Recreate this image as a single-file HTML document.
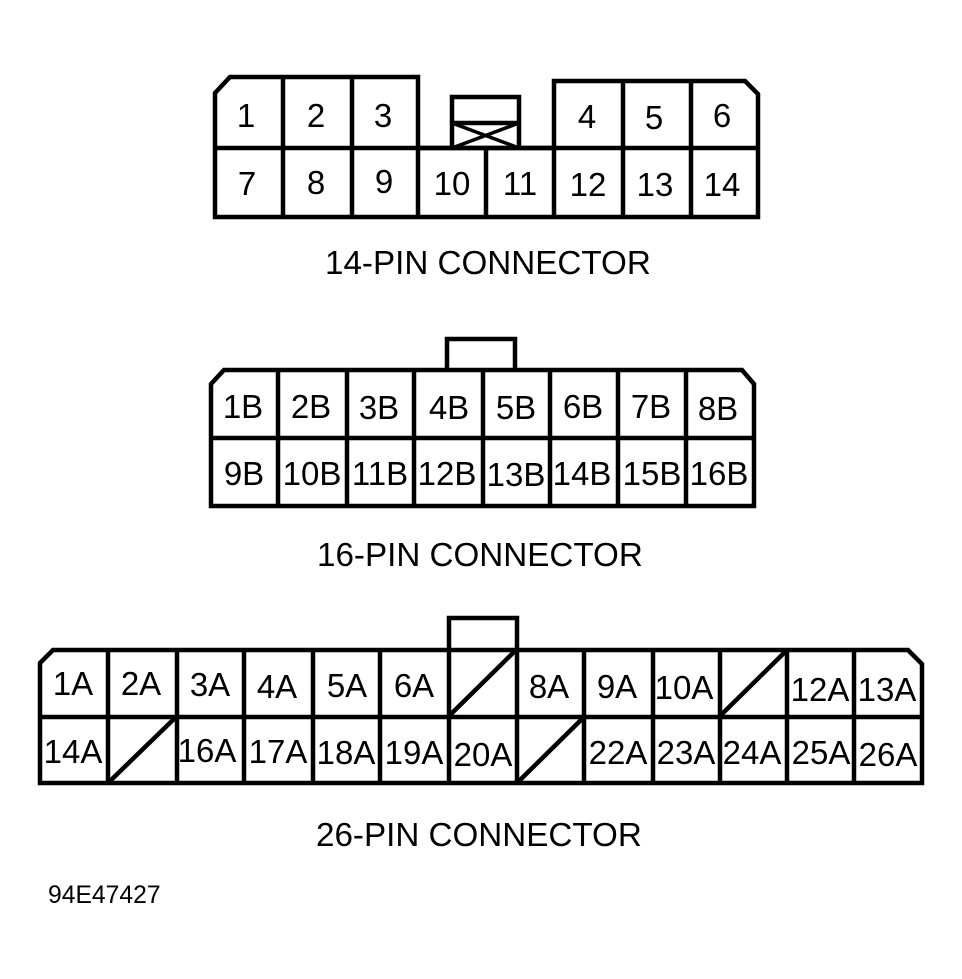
<!DOCTYPE html>
<html>
<head>
<meta charset="utf-8">
<style>
html,body{margin:0;padding:0;background:#fff;}
svg{display:block;}
text{font-family:"Liberation Sans",sans-serif;fill:#000;}
.c{font-size:33px;text-anchor:middle;}
.l{font-size:33.2px;}
.b{fill:none;stroke:#000;stroke-width:4.5;stroke-linejoin:miter;}
.t{fill:none;stroke:#000;stroke-width:3.5;}
</style>
</head>
<body>
<svg width="962" height="979" viewBox="0 0 962 979" xmlns="http://www.w3.org/2000/svg">
<rect width="962" height="979" fill="#fff"/>

<!-- 14 pin -->
<path class="b" d="M452 148V97H519V148M452 123H519"/>
<path class="t" d="M452 123L519 148M519 123L452 148"/>
<path class="b" d="M215 93L230 77H418V148H554V81H745L758 94V217H215Z"/>
<path class="b" d="M215 148H758M283 77V216M352 77V216M418 148V216M486 148V216M554 148V216M623 81V216M691 81V216"/>
<text class="c" x="246" y="127">1</text><text class="c" x="316" y="127">2</text><text class="c" x="383" y="127">3</text>
<text class="c" x="587" y="128">4</text><text class="c" x="654" y="129">5</text><text class="c" x="722" y="127">6</text>
<text class="c" x="247" y="195">7</text><text class="c" x="316" y="194">8</text><text class="c" x="384" y="193">9</text>
<text class="c" x="452" y="195">10</text><text class="c" x="520" y="195">11</text><text class="c" x="588" y="196">12</text>
<text class="c" x="655" y="196">13</text><text class="c" x="722" y="196">14</text>
<text class="l" x="325" y="274">14-PIN CONNECTOR</text>

<!-- 16 pin -->
<path class="b" d="M447 370V339H515V370"/>
<path class="b" d="M211 384L224 370H742L754 384V506H211Z"/>
<path class="b" d="M211 438H754M278 370V506M347 370V506M414 370V506M483 370V506M550 370V506M618 370V506M686 370V506"/>
<text class="c" x="243" y="418">1B</text><text class="c" x="311" y="418">2B</text><text class="c" x="379" y="419">3B</text><text class="c" x="449" y="419">4B</text>
<text class="c" x="516" y="419">5B</text><text class="c" x="583" y="418">6B</text><text class="c" x="651" y="418">7B</text><text class="c" x="718" y="420">8B</text>
<text class="c" x="244" y="485">9B</text><text class="c" x="312" y="485">10B</text><text class="c" x="380" y="485">11B</text><text class="c" x="447" y="485">12B</text>
<text class="c" x="516" y="486">13B</text><text class="c" x="582" y="485">14B</text><text class="c" x="652" y="485">15B</text><text class="c" x="719" y="485">16B</text>
<text class="l" x="317" y="566">16-PIN CONNECTOR</text>

<!-- 26 pin -->
<path class="b" d="M449 650V618H517V650"/>
<path class="b" d="M40 663L53 650H908L922 664V783H40Z"/>
<path class="b" d="M40 717H922M108 650V783M177 650V783M244 650V783M313 650V783M380 650V783M449 650V783M517 650V783M584 650V783M653 650V783M720 650V783M787 650V783M854 650V783"/>
<path class="b" d="M449 716L516 650M720 716L787 650M108 783L176 717M517 783L584 717"/>
<text class="c" x="73" y="695">1A</text><text class="c" x="141" y="695">2A</text><text class="c" x="210" y="696">3A</text><text class="c" x="277" y="698">4A</text>
<text class="c" x="347" y="697">5A</text><text class="c" x="414" y="697">6A</text><text class="c" x="549" y="698">8A</text><text class="c" x="617" y="698">9A</text>
<text class="c" x="684" y="699">10A</text><text class="c" x="820" y="701">12A</text><text class="c" x="887" y="701">13A</text>
<text class="c" x="73" y="763">14A</text><text class="c" x="207" y="762">16A</text><text class="c" x="278" y="763">17A</text><text class="c" x="346" y="764">18A</text>
<text class="c" x="414" y="764">19A</text><text class="c" x="483" y="766">20A</text><text class="c" x="618" y="764">22A</text><text class="c" x="686" y="764">23A</text>
<text class="c" x="752" y="764">24A</text><text class="c" x="821" y="764">25A</text><text class="c" x="888" y="766">26A</text>
<text class="l" x="316" y="846">26-PIN CONNECTOR</text>

<text x="48" y="903" font-size="24.7">94E47427</text>
</svg>
</body>
</html>
